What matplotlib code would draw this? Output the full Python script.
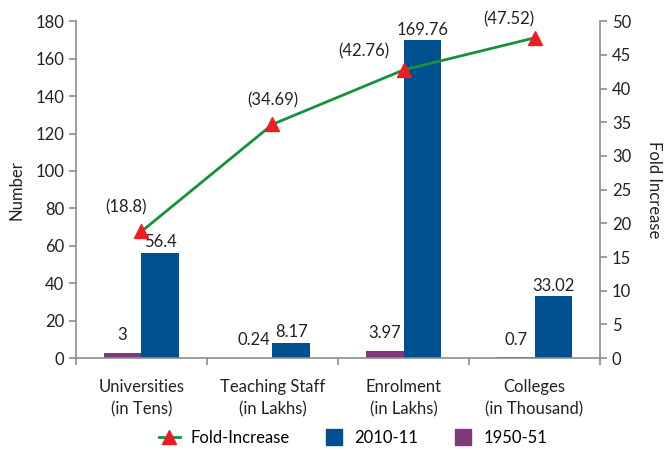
import matplotlib
matplotlib.use("Agg")
import matplotlib.pyplot as plt
import numpy as np
from matplotlib.lines import Line2D

categories = ["Universities\n(in Tens)", "Teaching Staff\n(in Lakhs)", "Enrolment\n(in Lakhs)", "Colleges\n(in Thousand)"]
v1950 = [3, 0.24, 3.97, 0.7]
v2010 = [56.4, 8.17, 169.76, 33.02]
fold = [18.8, 34.69, 42.76, 47.52]
fold_labels = ["(18.8)", "(34.69)", "(42.76)", "(47.52)"]
v1950_labels = ["3", "0.24", "3.97", "0.7"]
v2010_labels = ["56.4", "8.17", "169.76", "33.02"]

plt.rcParams['font.family'] = ['Lato', 'DejaVu Sans']
BLUE = "#00508f"
PURPLE = "#7f3a7d"
GREEN = "#16913e"
RED = "#ee1c25"
GRAY = "#8c8c8c"
TXT = "#222222"
FS = 12

fig = plt.figure(figsize=(6.66, 4.5), dpi=100)
ax = fig.add_axes([0.114, 0.204, 0.787, 0.749])
ax2 = ax.twinx()

x = np.arange(len(categories))
w = 0.288
ax.bar(x - w/2, v1950, w, color=PURPLE, zorder=2)
ax.bar(x + w/2, v2010, w, color=BLUE, zorder=2)
for i in range(len(x)):
    ax.text(x[i] - w/2, v1950[i] + 5, v1950_labels[i], ha='center', va='bottom', fontsize=FS, color=TXT)
    ax.text(x[i] + w/2, v2010[i] + 1.5, v2010_labels[i], ha='center', va='bottom', fontsize=FS, color=TXT)

ax.set_xlim(-0.5, 3.5)
ax.set_ylim(0, 180)
ax.set_yticks(np.arange(0, 181, 20))
ax.set_xticks(x)
ax.set_xticklabels(categories, fontsize=FS, color=TXT, linespacing=1.45)
ax.set_xticks(np.arange(-0.5, 3.6, 1), minor=True)
ax.tick_params(axis='x', which='major', length=0, pad=15)
ax.tick_params(axis='x', which='minor', length=5, color=GRAY, width=1.2)
ax.tick_params(axis='y', length=5, color=GRAY, width=1.2, labelsize=FS, labelcolor=TXT)
ax.set_ylabel("Number", fontsize=FS, color=TXT, labelpad=8)

ax2.set_ylim(0, 50)
ax2.set_yticks(np.arange(0, 51, 5))
ax2.tick_params(axis='y', length=5, color=GRAY, width=1.2, labelsize=FS, labelcolor=TXT)
ax2.set_ylabel("Fold Increase", fontsize=FS, color=TXT, rotation=270, labelpad=22)
ax2.plot(x, fold, color=GREEN, lw=2, marker='^', markersize=10, markerfacecolor=RED, markeredgecolor=RED, zorder=5)
offsets = [(-0.12, 2.4), (0.0, 2.4), (-0.3, 1.6), (-0.2, 1.6)]
for i in range(len(x)):
    ax2.text(x[i] + offsets[i][0], fold[i] + offsets[i][1], fold_labels[i], ha='center', va='bottom', fontsize=FS, color=TXT)

for a in (ax, ax2):
    a.spines['top'].set_visible(False)
    for s in ('left', 'right', 'bottom'):
        a.spines[s].set_color(GRAY)
        a.spines[s].set_linewidth(1.2)
ax.spines['right'].set_visible(False)
ax2.spines['left'].set_visible(False)
ax2.spines['bottom'].set_visible(False)

handles = [Line2D([0], [0], color=GREEN, lw=2, marker='^', markersize=10, markerfacecolor=RED, markeredgecolor=RED),
           Line2D([0], [0], linestyle='none', marker='s', markersize=12, color=BLUE),
           Line2D([0], [0], linestyle='none', marker='s', markersize=12, color=PURPLE)]
fig.legend(handles, ["Fold-Increase", "2010-11", "1950-51"], loc='lower center', ncol=3, frameon=False,
           fontsize=FS, bbox_to_anchor=(0.53, -0.025), handlelength=1.3, columnspacing=2.0, handletextpad=0.6)

fig.savefig("out.png", dpi=100)
